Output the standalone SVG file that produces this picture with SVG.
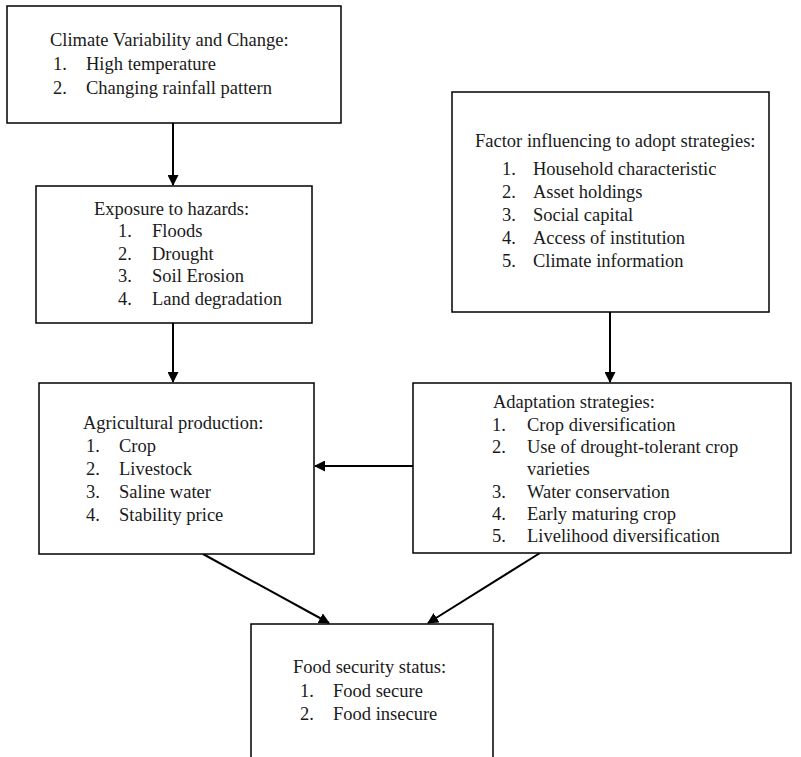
<svg xmlns="http://www.w3.org/2000/svg" width="801" height="757" viewBox="0 0 801 757">
<style>
.box{fill:#fff;stroke:#000;stroke-width:1.5}
text{font-family:"Liberation Serif","Times New Roman",serif;font-size:18.5px;fill:#1a1a1a}
.con{stroke:#000;stroke-width:2;fill:none}
</style>
<defs>
<marker id="ah" markerWidth="11" markerHeight="11" refX="10" refY="5.5" orient="auto" markerUnits="userSpaceOnUse">
<path d="M0,0 L11,5.5 L0,11 Z" fill="#000"/>
</marker>
</defs>
<rect width="801" height="757" fill="#fff"/>
<g id="connectors">
<line class="con" x1="173" y1="123" x2="173" y2="185" marker-end="url(#ah)"/>
<line class="con" x1="173" y1="323" x2="173" y2="382" marker-end="url(#ah)"/>
<line class="con" x1="610" y1="312" x2="610" y2="382" marker-end="url(#ah)"/>
<line class="con" x1="413" y1="466" x2="315" y2="466" marker-end="url(#ah)"/>
<line class="con" x1="203" y1="554" x2="329" y2="623" marker-end="url(#ah)"/>
<line class="con" x1="540" y1="553" x2="428" y2="623" marker-end="url(#ah)"/>
</g>
<g id="climate">
<rect class="box" x="7" y="6" width="334" height="117"/>
<text x="50" y="46">Climate Variability and Change:</text>
<text x="53" y="70">1.</text><text x="86" y="70">High temperature</text>
<text x="53" y="94">2.</text><text x="86" y="94">Changing rainfall pattern</text>
</g>
<g id="exposure">
<rect class="box" x="36" y="186" width="276" height="137"/>
<text x="94" y="215">Exposure to hazards:</text>
<text x="118" y="237">1.</text><text x="152" y="237">Floods</text>
<text x="118" y="260">2.</text><text x="152" y="260">Drought</text>
<text x="118" y="282">3.</text><text x="152" y="282">Soil Erosion</text>
<text x="118" y="305">4.</text><text x="152" y="305">Land degradation</text>
</g>
<g id="factor">
<rect class="box" x="452" y="92" width="317" height="220"/>
<text x="475" y="147">Factor influencing to adopt strategies:</text>
<text x="502" y="175">1.</text><text x="533" y="175">Household characteristic</text>
<text x="502" y="198">2.</text><text x="533" y="198">Asset holdings</text>
<text x="502" y="221">3.</text><text x="533" y="221">Social capital</text>
<text x="502" y="244">4.</text><text x="533" y="244">Access of institution</text>
<text x="502" y="267">5.</text><text x="533" y="267">Climate information</text>
</g>
<g id="agricultural">
<rect class="box" x="39" y="383" width="275" height="171"/>
<text x="83" y="429">Agricultural production:</text>
<text x="86" y="452">1.</text><text x="119" y="452">Crop</text>
<text x="86" y="475">2.</text><text x="119" y="475">Livestock</text>
<text x="86" y="498">3.</text><text x="119" y="498">Saline water</text>
<text x="86" y="521">4.</text><text x="119" y="521">Stability price</text>
</g>
<g id="adaptation">
<rect class="box" x="413" y="383" width="378" height="170"/>
<text x="493" y="408">Adaptation strategies:</text>
<text x="492" y="431">1.</text><text x="527" y="431">Crop diversification</text>
<text x="492" y="453">2.</text><text x="527" y="453">Use of drought-tolerant crop</text>
<text x="527" y="475">varieties</text>
<text x="492" y="498">3.</text><text x="527" y="498">Water conservation</text>
<text x="492" y="520">4.</text><text x="527" y="520">Early maturing crop</text>
<text x="492" y="542">5.</text><text x="527" y="542">Livelihood diversification</text>
</g>
<g id="food">
<path class="box" d="M251,760 L251,624 L493,624 L493,760"/>
<text x="293" y="673">Food security status:</text>
<text x="300" y="697">1.</text><text x="333" y="697">Food secure</text>
<text x="300" y="720">2.</text><text x="333" y="720">Food insecure</text>
</g>
</svg>
